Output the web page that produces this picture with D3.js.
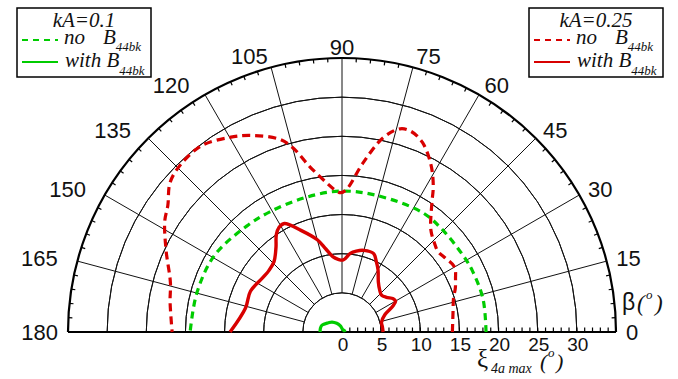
<!DOCTYPE html>
<html>
<head>
<meta charset="utf-8">
<script src="https://cdn.jsdelivr.net/npm/d3@7"></script>
<style>
  body { margin: 0; background: #fff; }
  svg { display: block; }
  .tick-lab { font-family: "Liberation Sans", Arial, sans-serif; fill: #111; }
  .leg { font-family: "Liberation Serif", "Times New Roman", serif; font-style: italic; fill: #111; }
</style>
</head>
<body>
<div id="chart"></div>
<script>
// angle ticks around the half circle (degrees)
const angleTicks = [0, 15, 30, 45, 60, 75, 90, 105, 120, 135, 150, 165, 180];
// radial ticks (xi 4a max, degrees)
const radialTicks = [0, 5, 10, 15, 20, 25, 30];
const radialMax = 35;

// kA = 0.1, no B44bk (green dashed)
const ga_angle = [0, 13, 25, 32, 45, 56, 76, 91, 106, 121, 132, 149, 165, 180];
const ga_r     = [18.4, 18.5, 18.4, 18.3, 18.3, 18.4, 18.0, 18.0, 17.8, 17.9, 18.2, 19.0, 19.2, 19.4];

// kA = 0.1, with B44bk (green solid)
const gb_angle = [0, 30, 60, 90, 105, 121, 135, 146, 161, 170, 180];
const gb_r     = [0.4, 0.35, 0.3, 0.45, 0.8, 1.3, 1.8, 2.1, 2.7, 2.8, 2.8];

// kA = 0.25, no B44bk (red dashed)
const ra_angle = [0, 10, 17, 21, 25, 30, 36, 40, 44, 49, 55, 58, 62, 67, 71, 74, 78, 83, 88, 90.5, 93, 96, 101, 105, 108, 115, 120, 127, 134, 139, 144, 148, 155, 164, 170, 180];
const ra_r     = [14.1, 14.4, 14.9, 15.5, 16.0, 16.6, 16.2, 16.0, 16.4, 17.3, 20.0, 22.0, 24.2, 26.3, 27.1, 27.0, 25.4, 21.7, 18.3, 17.8, 18.2, 19.2, 21.5, 24.4, 25.9, 27.7, 28.7, 29.8, 29.7, 29.1, 27.5, 26.7, 24.8, 22.8, 22.3, 21.7];

// kA = 0.25, with B44bk (red solid)
const rb_angle = [0, 7, 14, 22, 27, 30, 33, 38, 43, 48, 54, 60, 64, 68, 75, 80, 84, 89, 93, 97, 101, 105, 112, 118, 121, 124, 128, 134, 140, 145, 156, 166, 180];
const rb_r     = [5.25, 5.2, 5.2, 5.9, 7.3, 7.9, 7.8, 7.2, 6.9, 7.2, 7.9, 9.2, 10.0, 10.8, 10.8, 10.5, 10.1, 9.2, 9.3, 9.7, 10.8, 12.2, 14.0, 15.7, 15.6, 15.0, 13.7, 12.5, 12.2, 12.25, 12.8, 12.7, 14.3];

const GREEN = "#00cc00", RED = "#d80000";

const W = 678, H = 379;
const cx = 342, cy = 332, R = 274;

const svg = d3.select("#chart").append("svg")
    .attr("width", W).attr("height", H);

const r = d3.scaleLinear().domain([0, radialMax]).range([0, R]);
const rad = d => d * Math.PI / 180;
const px = (a, v) => cx + r(v) * Math.cos(rad(a));
const py = (a, v) => cy - r(v) * Math.sin(rad(a));

const arc = d3.arc().startAngle(-Math.PI / 2).endAngle(Math.PI / 2);
const g = svg.append("g").attr("transform", `translate(${cx},${cy})`);

// grid circles
g.selectAll(".ring")
    .data([5, 10, 15, 20, 25, 30])
    .enter().append("path")
    .attr("d", d => arc({innerRadius: r(d), outerRadius: r(d)}))
    .attr("fill", "none").attr("stroke", "#111").attr("stroke-width", 1);

// spokes
svg.selectAll(".spoke")
    .data(angleTicks)
    .enter().append("line")
    .attr("x1", d => px(d, 5)).attr("y1", d => py(d, 5))
    .attr("x2", d => px(d, radialMax)).attr("y2", d => py(d, radialMax))
    .attr("stroke", "#111").attr("stroke-width", 1);

// outer arc
g.append("path")
    .attr("d", arc({innerRadius: R, outerRadius: R}))
    .attr("fill", "none").attr("stroke", "#000").attr("stroke-width", 2.2);

// minor ticks on the outer arc, every 3 degrees
svg.selectAll(".atick")
    .data(d3.range(3, 180, 3).filter(d => d % 15 !== 0))
    .enter().append("line")
    .attr("x1", d => px(d, radialMax)).attr("y1", d => py(d, radialMax))
    .attr("x2", d => cx + (R - 4) * Math.cos(rad(d)))
    .attr("y2", d => cy - (R - 4) * Math.sin(rad(d)))
    .attr("stroke", "#000").attr("stroke-width", 1.2);

// angle labels: start / end anchored just outside the arc
const labR = R + 9;
const leftShift = d => (d > 105 && d < 180) ? -10 : 0;
svg.selectAll(".alab")
    .data(angleTicks)
    .enter().append("text")
    .attr("class", "tick-lab")
    .style("font-size", "22px")
    .attr("text-anchor", d => d === 90 ? "middle" : (d < 90 ? "start" : "end"))
    .attr("dominant-baseline", "central")
    .attr("x", d => cx + labR * Math.cos(rad(d)) + (d === 90 ? 0 : (d < 90 ? 1 : -1)) + leftShift(d))
    .attr("y", d => cy - labR * Math.sin(rad(d)) - 2 * Math.sin(rad(d)))
    .text(d => d);

// baseline
svg.append("line")
    .attr("x1", cx - R).attr("x2", cx + R)
    .attr("y1", cy).attr("y2", cy)
    .attr("stroke", "#000").attr("stroke-width", 2.2);

// radial ticks every 1 unit on the right half
svg.selectAll(".rtick")
    .data(d3.range(0, radialMax + 1, 1))
    .enter().append("line")
    .attr("x1", d => cx + r(d)).attr("x2", d => cx + r(d))
    .attr("y1", cy).attr("y2", cy - 4.5)
    .attr("stroke", "#000").attr("stroke-width", 1.2);

svg.selectAll(".rlab")
    .data(radialTicks)
    .enter().append("text")
    .attr("class", "tick-lab")
    .style("font-size", "19px")
    .attr("text-anchor", "middle")
    .attr("x", d => cx + r(d) + 1)
    .attr("y", cy + 19)
    .text(d => d);

// curves
const toPts = (angs, vals) => angs.map((a, i) => [px(a, vals[i]), py(a, vals[i])]);
const line = d3.line().curve(d3.curveCatmullRom.alpha(0.5));

const series = [
    {a: ga_angle, v: ga_r, color: GREEN, dash: "7,5", w: 3.2},
    {a: gb_angle, v: gb_r, color: GREEN, dash: null, w: 3.2},
    {a: ra_angle, v: ra_r, color: RED, dash: "8,5", w: 3.2},
    {a: rb_angle, v: rb_r, color: RED, dash: null, w: 3.4}
];
svg.selectAll(".curve")
    .data(series)
    .enter().append("path")
    .attr("d", d => line(toPts(d.a, d.v)))
    .attr("fill", "none")
    .attr("stroke", d => d.color)
    .attr("stroke-width", d => d.w)
    .attr("stroke-dasharray", d => d.dash);

// axis titles, each piece placed on its own
function piece(x, y, txt, size, cls, italic) {
    return svg.append("text").attr("class", cls).attr("x", x).attr("y", y)
        .style("font-size", size + "px")
        .style("font-style", italic ? "italic" : "normal")
        .text(txt);
}
piece(622, 310, "β", 23, "tick-lab", false);
piece(637, 311, "(", 23, "leg", true);
piece(646, 299, "o", 13, "leg", true);
piece(655, 311, ")", 23, "leg", true);

piece(477, 367, "ξ", 25, "leg", false);
piece(491, 373, "4a max", 14, "leg", true);
piece(540, 369, "(", 22, "leg", true);
piece(548, 357, "o", 13, "leg", true);
piece(556, 369, ")", 22, "leg", true);

// legends
function legend(x0, title, color) {
    const lg = svg.append("g").attr("transform", `translate(${x0},0)`);
    lg.append("rect").attr("x", 0).attr("y", 8).attr("width", 134).attr("height", 69)
        .attr("fill", "#fff").attr("stroke", "#000").attr("stroke-width", 1.5);
    lg.append("text").attr("class", "leg").attr("x", 67).attr("y", 27)
        .attr("text-anchor", "middle").style("font-size", "21px").text(title);
    lg.append("line").attr("x1", 5).attr("x2", 41).attr("y1", 40).attr("y2", 40)
        .attr("stroke", color).attr("stroke-width", 2).attr("stroke-dasharray", "6,5");
    lg.append("line").attr("x1", 5).attr("x2", 41).attr("y1", 62).attr("y2", 62)
        .attr("stroke", color).attr("stroke-width", 2);
    const t1 = lg.append("text").attr("class", "leg").attr("x", 47).attr("y", 44).style("font-size", "21px");
    t1.append("tspan").text("no");
    t1.append("tspan").attr("x", 86).text("B");
    t1.append("tspan").style("font-size", "13px").attr("dy", 7).text("44bk");
    const t2 = lg.append("text").attr("class", "leg").attr("x", 48).attr("y", 67).style("font-size", "21px");
    t2.append("tspan").text("with B");
    t2.append("tspan").style("font-size", "13px").attr("dy", 8).text("44bk");
}
legend(17, "kA=0.1", GREEN);
legend(529, "kA=0.25", RED);
</script>
</body>
</html>
